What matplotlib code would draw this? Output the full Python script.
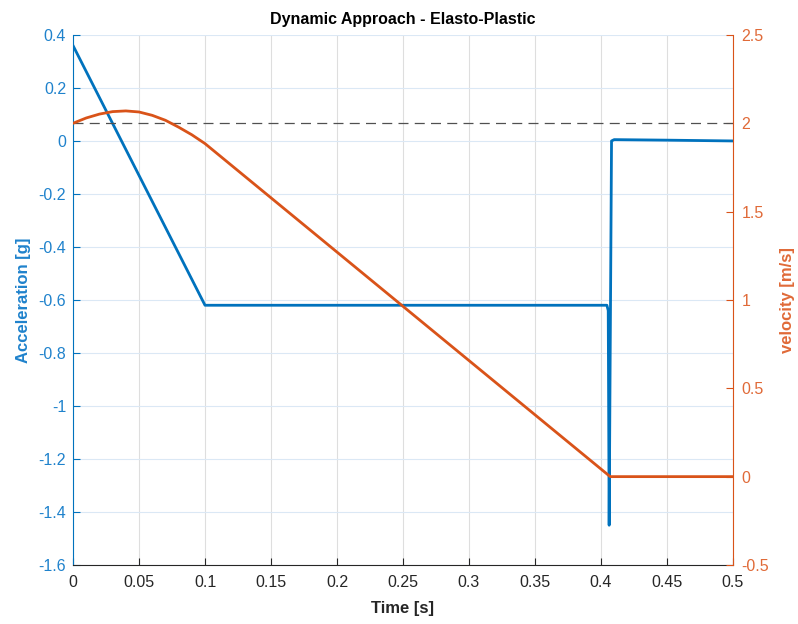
import matplotlib.pyplot as plt

plt.rcParams['font.family'] = ['Liberation Sans', 'DejaVu Sans']

blue = '#0072BD'
orange = '#D95319'
blue_txt = '#1f82cc'
orange_txt = '#e06a38'
dark = '#262626'

# acceleration trace [g]
t_acc = [0.0, 0.1, 0.4045, 0.4055, 0.4062, 0.4068, 0.4080, 0.4100, 0.45, 0.5]
acc = [0.36, -0.62, -0.62, -0.64, -1.45, -0.95, 0.0, 0.005, 0.003, 0.0]

# velocity trace [m/s]
t_vel = [0.0, 0.01, 0.02, 0.03, 0.04, 0.05, 0.06, 0.07, 0.08, 0.09, 0.10, 0.407, 0.5]
vel = [2.0, 2.03, 2.052, 2.066, 2.07, 2.064, 2.045, 2.017, 1.978, 1.935, 1.885, 0.0, 0.0]

v_impact = 2.0

fig = plt.figure(figsize=(7.98, 6.24), dpi=100)
ax = fig.add_axes([0.0915, 0.0946, 0.827, 0.8494])
ax2 = ax.twinx()

ax.plot(t_acc, acc, color=blue, lw=2.0, zorder=3)
ax2.plot(t_vel, vel, color=orange, lw=2.0, zorder=3)
ax2.axhline(v_impact, color='#505050', lw=0.9, ls=(0, (8, 5)), zorder=2)

ax.set_xlim(0, 0.5)
ax.set_ylim(-1.6, 0.4)
ax2.set_ylim(-0.5, 2.5)
ax.set_xticks([i * 0.05 for i in range(11)])
ax.set_xticklabels(['0', '0.05', '0.1', '0.15', '0.2', '0.25', '0.3', '0.35', '0.4', '0.45', '0.5'])
ax.set_yticks([-1.6 + 0.2 * i for i in range(11)])
ax.set_yticklabels(['-1.6', '-1.4', '-1.2', '-1', '-0.8', '-0.6', '-0.4', '-0.2', '0', '0.2', '0.4'])
ax2.set_yticks([-0.5, 0, 0.5, 1, 1.5, 2, 2.5])
ax2.set_yticklabels(['-0.5', '0', '0.5', '1', '1.5', '2', '2.5'])

# grid: vertical gray, horizontal tinted by left axis
for x in ax.get_xticks():
    ax.axvline(x, color='#dedede', lw=0.8, zorder=0)
for y in ax.get_yticks():
    ax.axhline(y, color='#dbe8f5', lw=0.8, zorder=0)

for a in (ax, ax2):
    a.spines['top'].set_visible(False)
    a.tick_params(direction='in', length=5, labelsize=11.5)
ax.spines['left'].set_color(blue)
ax.spines['right'].set_visible(False)
ax.spines['bottom'].set_color(dark)
ax2.spines['right'].set_color(orange)
ax2.spines['left'].set_visible(False)
ax2.spines['bottom'].set_visible(False)
ax.tick_params(axis='y', color=blue, labelcolor=blue_txt, pad=5)
ax.tick_params(axis='x', colors=dark, pad=7)
ax2.tick_params(axis='y', color=orange, labelcolor=orange_txt, pad=6)

ax.set_xlabel('Time [s]', fontsize=12, fontweight='bold', color=dark, labelpad=8)
ax.set_ylabel('Acceleration [g]', fontsize=12, fontweight='bold', color=blue_txt, labelpad=5)
ax2.set_ylabel('velocity [m/s]', fontsize=12, fontweight='bold', color=orange_txt, labelpad=8)
ax.set_title('Dynamic Approach - Elasto-Plastic', fontsize=11.5, fontweight='bold', color='black', pad=8)

fig.savefig('out.png', dpi=100)
